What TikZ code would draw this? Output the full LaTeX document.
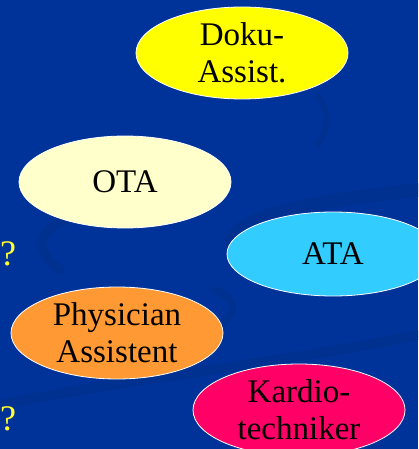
\documentclass[tikz,border=0pt]{standalone}
\usepackage{fontspec}
\setmainfont{Liberation Serif}
\usetikzlibrary{shapes.geometric}
\definecolor{bgblue}{HTML}{003399}
\definecolor{swoosh}{HTML}{003090}
\definecolor{dokuY}{HTML}{FFFF00}
\definecolor{otaC}{HTML}{FFFFCC}
\definecolor{ataC}{HTML}{33CCFF}
\definecolor{physC}{HTML}{FF9933}
\definecolor{kardC}{HTML}{FF0066}
\definecolor{qmark}{HTML}{FFFF33}
\begin{document}
\begin{tikzpicture}[x=1pt,y=-1pt,
  blob/.style={ellipse, draw=white, line width=0.8pt, minimum width=212pt, minimum height=92pt, inner sep=0pt, align=center, font=\fontsize{33}{37}\selectfont, text=black},
  qm/.style={font=\fontsize{36}{40}\selectfont, text=qmark, inner sep=0pt},
  band/.style={draw=swoosh, line cap=round, line width=14pt}]
\fill[bgblue] (0,0) rectangle (418,449);
\useasboundingbox (0,0) rectangle (418,449);
\begin{scope}
\clip (0,0) rectangle (418,449);
% subtle background swooshes
\draw[band] (418,190) .. controls (320,200) and (240,215) .. (232,240);
\draw[band, line width=10pt] (60,270) .. controls (20,240) and (50,215) .. (110,212);
\draw[band, line width=10pt] (0,405) .. controls (120,380) and (300,360) .. (418,335);
\draw[band, line width=6pt] (318,95) .. controls (330,110) and (328,130) .. (318,145);
\draw[band, line width=8pt] (200,335) .. controls (240,320) and (240,300) .. (215,290);
% ellipses
\node[blob, fill=dokuY] (doku) at (242,53) {Doku-\\Assist.};
\node[blob, fill=otaC] (ota) at (125,182) {OTA};
\node[blob, fill=ataC, minimum height=84pt] (ata) at (333,254) {ATA};
\node[blob, fill=physC] (phys) at (117,333) {Physician\\Assistent};
\node[blob, fill=kardC] (kard) at (299,410) {Kardio-\\techniker};
\node[qm] (q1) at (8,254) {?};
\node[qm] (q2) at (8,419) {?};
\end{scope}
\end{tikzpicture}
\end{document}
